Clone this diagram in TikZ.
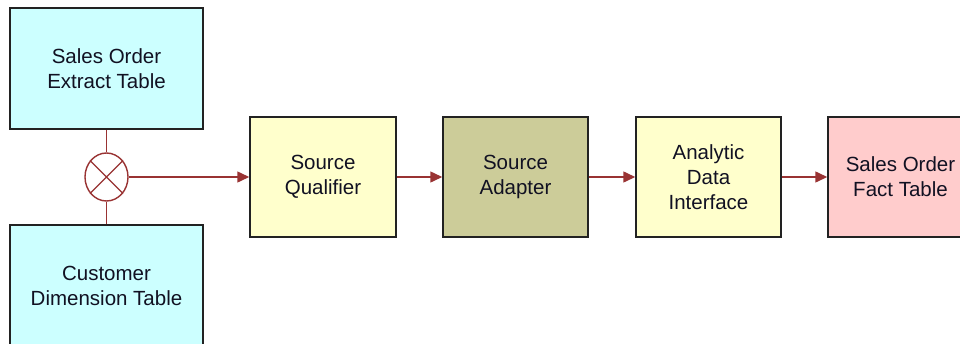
\documentclass[tikz,border=0pt]{standalone}
\usepackage{fontspec}
\setmainfont{Liberation Sans}
\usetikzlibrary{arrows.meta,shapes.geometric}
\definecolor{cyanfill}{HTML}{CCFFFF}
\definecolor{yelfill}{HTML}{FFFFCC}
\definecolor{olivefill}{HTML}{CCCC99}
\definecolor{pinkfill}{HTML}{FFCCCC}
\definecolor{boxline}{HTML}{222222}
\definecolor{connred}{HTML}{993333}
\definecolor{txt}{HTML}{111122}
\begin{document}
\begin{tikzpicture}[x=1pt,y=-1pt,
  box/.style={draw=boxline, line width=1.5pt, rectangle, inner sep=0pt,
    minimum width=145pt, minimum height=120pt, align=center, text=txt,
    font=\fontsize{20.5}{25}\selectfont},
  tablebox/.style={box, minimum width=193pt, minimum height=121pt, fill=cyanfill},
  link/.style={draw=connred, line width=1.5pt},
  conn/.style={link, -{Triangle[length=12pt,width=11pt]}}]
\clip (0,0) rectangle (960,343);
\fill[white] (0,0) rectangle (960,343);
\node[tablebox] (soe) at (106.5,68.5) {Sales Order\\Extract Table};
\node[tablebox] (cdt) at (106.5,285.5) {Customer\\Dimension Table};
\node[draw=connred, line width=1.4pt, ellipse, minimum width=43pt, minimum height=48pt, inner sep=0pt] (j) at (106.5,177) {};
\draw[link, line width=1.3pt] (j.45) -- (j.225) (j.135) -- (j.315);
\node[box, fill=yelfill, minimum width=146pt] (sq) at (323,177) {Source\\Qualifier};
\node[box, fill=olivefill] (sa) at (515.5,177) {Source\\Adapter};
\node[box, fill=yelfill] (adi) at (708.5,177) {Analytic\\Data\\Interface};
\node[box, fill=pinkfill] (fact) at (900.5,177) {Sales Order\\Fact Table};
\draw[link] (soe.south) -- (j.north);
\draw[link] (cdt.north) -- (j.south);
\draw[conn] (j.east) -- (sq.west);
\draw[conn] (sq.east) -- (sa.west);
\draw[conn] (sa.east) -- (adi.west);
\draw[conn] (adi.east) -- (fact.west);
\end{tikzpicture}
\end{document}
